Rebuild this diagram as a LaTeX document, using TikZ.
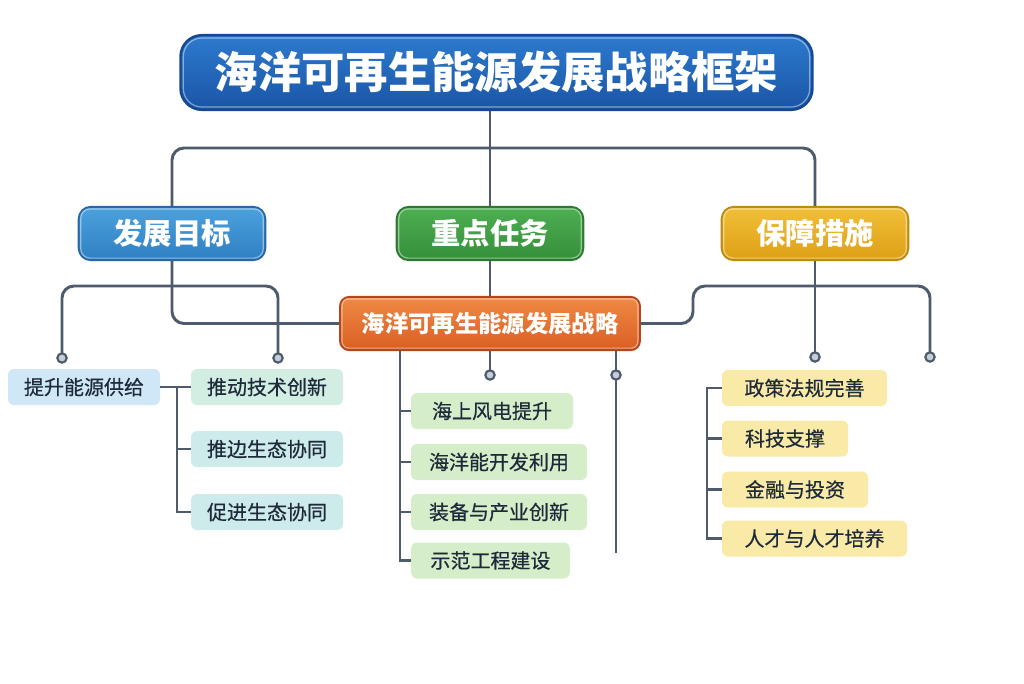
\documentclass[tikz,border=0pt]{standalone}
\usepackage{fontspec}
\newfontfamily\cjk{Noto Sans CJK SC}
\newfontfamily\cjkm[FakeBold=0.5]{Noto Sans CJK SC}
\usetikzlibrary{calc}
\definecolor{linec}{HTML}{4D5B6D}
\definecolor{txt}{HTML}{1E2A3A}
\definecolor{dotc}{HTML}{C5CDD8}
\begin{document}
\begin{tikzpicture}[x=0.75pt,y=-0.75pt,
  conn/.style={draw=linec,line width=2.2pt,rounded corners=9pt},
  tick/.style={draw=linec,line width=2.2pt},
  dotn/.style={circle,draw=linec,line width=1.6pt,fill=dotc,inner sep=0pt,minimum size=7pt},
  titlebox/.style={rounded corners=16pt,top color=tT,bottom color=tB,draw=tD,line width=1.8pt,
     text=white,font=\cjk\bfseries\fontsize{32.5}{38}\selectfont,minimum width=474pt,minimum height=56pt},
  lvlbox/.style={rounded corners=9pt,line width=1.4pt,text=white,font=\cjk\bfseries\fontsize{22}{26}\selectfont,
     minimum width=140pt,minimum height=40pt},
  smallbox/.style={rounded corners=4.5pt,text=txt,font=\cjkm\fontsize{15}{18}\selectfont,minimum height=27pt,inner sep=0pt},
  gloss/.style={draw=white,draw opacity=0.45,line width=0.9pt},
]
\definecolor{tT}{HTML}{2D7ACE}
\definecolor{tB}{HTML}{1A55A6}
\definecolor{tD}{HTML}{154891}
\definecolor{goalT}{HTML}{4CA2DD}\definecolor{goalB}{HTML}{2F7FC2}\definecolor{goalD}{HTML}{2968A6}
\definecolor{taskT}{HTML}{4EAF52}\definecolor{taskB}{HTML}{358F3A}\definecolor{taskD}{HTML}{2C7A30}
\definecolor{guarT}{HTML}{F1BF38}\definecolor{guarB}{HTML}{DDA016}\definecolor{guarD}{HTML}{BE8A12}
\definecolor{stratT}{HTML}{F08A45}\definecolor{stratB}{HTML}{D95E22}\definecolor{stratD}{HTML}{B5461A}
\definecolor{lblue}{HTML}{CFE7F6}
\definecolor{lmint}{HTML}{D2EEE3}
\definecolor{lcyan}{HTML}{CDEBEA}
\definecolor{lgreen}{HTML}{D5EDC9}
\definecolor{lyellow}{HTML}{FAEAA8}

\useasboundingbox[fill=white] (0,0) rectangle (1024,683);

% main nodes
\node[titlebox] (title) at (496.5,72.5) {海洋可再生能源发展战略框架};
\node[lvlbox,top color=goalT,bottom color=goalB,draw=goalD] (goal) at (172,233.5) {发展目标};
\node[lvlbox,top color=taskT,bottom color=taskB,draw=taskD] (task) at (490,233.5) {重点任务};
\node[lvlbox,top color=guarT,bottom color=guarB,draw=guarD] (guar) at (815,233.5) {保障措施};
\node[rounded corners=7pt,top color=stratT,bottom color=stratB,draw=stratD,line width=1.4pt,text=white,
  font=\cjk\bfseries\fontsize{17.5}{21}\selectfont,minimum width=225pt,minimum height=40pt] (strat) at (490,323.5) {海洋可再生能源发展战略};

% inner highlights
\draw[gloss,rounded corners=14pt] ($(title.south west)+(4,-4)$) rectangle ($(title.north east)+(-4,4)$);
\draw[gloss,rounded corners=7pt] ($(goal.south west)+(3,-3)$) rectangle ($(goal.north east)+(-3,3)$);
\draw[gloss,rounded corners=7pt] ($(task.south west)+(3,-3)$) rectangle ($(task.north east)+(-3,3)$);
\draw[gloss,rounded corners=7pt] ($(guar.south west)+(3,-3)$) rectangle ($(guar.north east)+(-3,3)$);
\draw[gloss,rounded corners=5pt] ($(strat.south west)+(3,-3)$) rectangle ($(strat.north east)+(-3,3)$);

% left boxes
\node[smallbox,fill=lblue,minimum width=114pt] (a1) at (84,387) {提升能源供给};
\node[smallbox,fill=lmint,minimum width=114pt] (a2) at (267,387) {推动技术创新};
\node[smallbox,fill=lcyan,minimum width=114pt] (a3) at (267,449) {推边生态协同};
\node[smallbox,fill=lcyan,minimum width=114pt] (a4) at (267,512) {促进生态协同};

% green boxes
\node[smallbox,fill=lgreen,minimum width=121.5pt] (g1) at (492,411) {海上风电提升};
\node[smallbox,fill=lgreen,minimum width=132pt] (g2) at (499,462) {海洋能开发利用};
\node[smallbox,fill=lgreen,minimum width=132pt] (g3) at (499,512) {装备与产业创新};
\node[smallbox,fill=lgreen,minimum width=119pt] (g4) at (490.5,560.5) {示范工程建设};

% yellow boxes
\node[smallbox,fill=lyellow,minimum width=123.75pt] (y1) at (804.5,388) {政策法规完善};
\node[smallbox,fill=lyellow,minimum width=94.5pt] (y2) at (785,438.5) {科技支撑};
\node[smallbox,fill=lyellow,minimum width=109.5pt] (y3) at (795,489.5) {金融与投资};
\node[smallbox,fill=lyellow,minimum width=138.75pt] (y4) at (814.5,538.5) {人才与人才培养};

% coordinates
\coordinate (bus) at (490,148);
\coordinate (c1) at (62,358);
\coordinate (c2) at (278,358);
\coordinate (lk) at (62,286);
\coordinate (cm) at (490,375);
\coordinate (gl) at (400,350);
\coordinate (sr) at (616,350);
\coordinate (srEnd) at (616,553);
\coordinate (cr) at (616,375);
\coordinate (k1) at (693,286);
\coordinate (rb) at (930,357);
\coordinate (cg) at (815,357);
\coordinate (yb) at (707,388);
\coordinate (lb) at (177,387);

% connectors
\draw[tick] (title.south -| bus) -- (task.north);
\draw[conn] (goal.north) |- (bus) -| (guar.north);
\draw[conn] (goal.south) |- (strat.west);
\draw[conn] (c1) -- (lk) -| (c2);
\draw[tick] (task.south) -- (strat.north);
\draw[tick] (strat.south) -- (cm);
\draw[tick] (gl) |- (g4.west);
\draw[tick] (gl |- g1.west) -- (g1.west);
\draw[tick] (gl |- g2.west) -- (g2.west);
\draw[tick] (gl |- g3.west) -- (g3.west);
\draw[tick] (sr) -- (srEnd);
\draw[conn] (strat.east) -| (k1) -| (rb);
\draw[tick] (guar.south) -- (cg);
\draw[tick] (y1.west) -| (yb) |- (y4.west);
\draw[tick] (yb |- y2.west) -- (y2.west);
\draw[tick] (yb |- y3.west) -- (y3.west);
\draw[tick] (a1.east) -- (a2.west);
\draw[tick] (lb) |- (a4.west);
\draw[tick] (lb |- a3.west) -- (a3.west);

% dots
\node[dotn] at (c1) {};
\node[dotn] at (c2) {};
\node[dotn] at (cm) {};
\node[dotn] at (cr) {};
\node[dotn] at (rb) {};
\node[dotn] at (cg) {};
\end{tikzpicture}
\end{document}
